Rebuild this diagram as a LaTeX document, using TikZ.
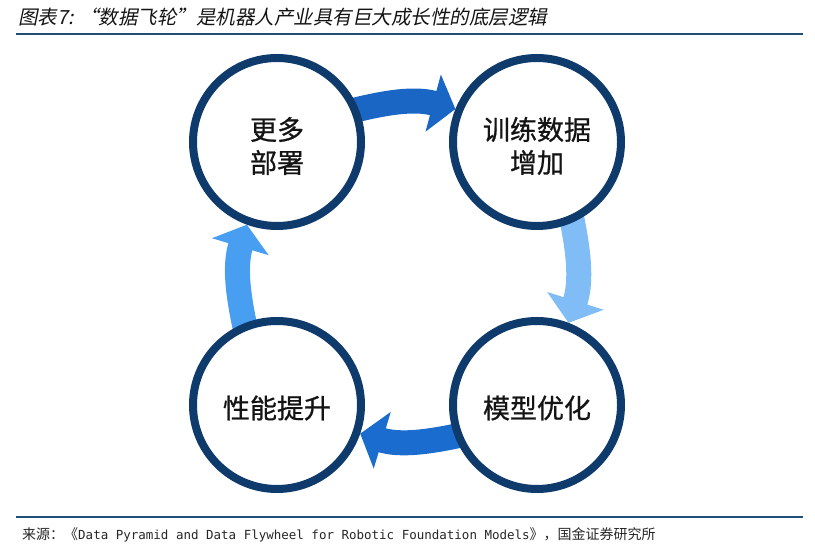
\documentclass[tikz,border=0pt]{standalone}
\usepackage{fontspec}
\setmainfont{Noto Sans CJK SC}
\newfontfamily\cjk{Noto Sans CJK SC}
\newfontfamily\cjkm[FakeBold=0.8]{Noto Sans CJK SC}
\newfontfamily\titlefont[FakeSlant=0.2]{Noto Sans CJK SC}
\newfontfamily\srcmono{DejaVu Sans Mono}
\usetikzlibrary{arrows.meta}
\pgfdeclarelayer{bg}
\pgfsetlayers{bg,main}
\definecolor{ring}{RGB}{14,58,108}
\definecolor{rule}{RGB}{31,78,121}
\definecolor{arrA}{RGB}{26,102,196}
\definecolor{arrB}{RGB}{128,188,245}
\definecolor{arrC}{RGB}{26,108,206}
\definecolor{arrD}{RGB}{72,158,240}
\definecolor{txt}{RGB}{20,20,20}
\tikzset{
  hub/.style={circle, draw=ring, line width=8bp, fill=white, minimum size=168bp,
    inner sep=0pt},
  hubtext/.style={inner sep=0pt, align=center, text=txt,
    font=\cjkm\fontsize{27bp}{33bp}\selectfont},
  flow/.style={line width=25bp, -{Triangle[width=58bp,length=23bp]}, shorten <=-16bp},
  hrule/.style={draw=rule, line width=2bp}
}
\begin{document}
\begin{tikzpicture}[x=1bp,y=1bp]
\useasboundingbox (0,0) rectangle (815,549);
\node[anchor=west, inner sep=0pt, text=txt] (title) at (18,532)
  {\titlefont\fontsize{19.5bp}{21bp}\selectfont 图表7: “数据飞轮”是机器人产业具有巨大成长性的底层逻辑};
\coordinate (r1a) at (16,515);
\coordinate (r1b) at (803,515);
\draw[hrule] (r1a) -- (r1b);
\coordinate (r2a) at (16,32);
\coordinate (r2b) at (803,32);
\draw[hrule] (r2a) -- (r2b);
\node[anchor=west, inner sep=0pt, text=black!85] (src) at (22,14)
  {\cjk\fontsize{14bp}{15bp}\selectfont 来源：《{\srcmono\fontsize{12.5bp}{15bp}\selectfont Data Pyramid and Data Flywheel for Robotic Foundation Models}》，国金证券研究所};

\node[hub] (tl) at (277,407) {};
\node[hub] (tr) at (537,407) {};
\node[hub] (br) at (537,144) {};
\node[hub] (bl) at (277,144) {};
\node[hubtext] (tlt) at ([yshift=-4bp]tl.center) {更多\\部署};
\node[hubtext] (trt) at ([yshift=-4bp]tr.center) {训练数据\\增加};
\node[hubtext] (brt) at ([yshift=-3bp]br.center) {模型优化};
\node[hubtext] (blt) at ([yshift=-3bp]bl.center) {性能提升};

\begin{pgfonlayer}{bg}
\draw[flow, draw=arrA, fill=arrA] (tl.22) to[bend left=15] (tr.158);
\draw[flow, draw=arrB, fill=arrB] (tr.-66) to[bend left=15] (br.69);
\draw[flow, draw=arrC, fill=arrC] (br.-159) to[bend left=15] (bl.-19);
\draw[flow, draw=arrD, fill=arrD] (bl.112) to[bend left=15] (tl.-110);
\end{pgfonlayer}
\end{tikzpicture}
\end{document}
